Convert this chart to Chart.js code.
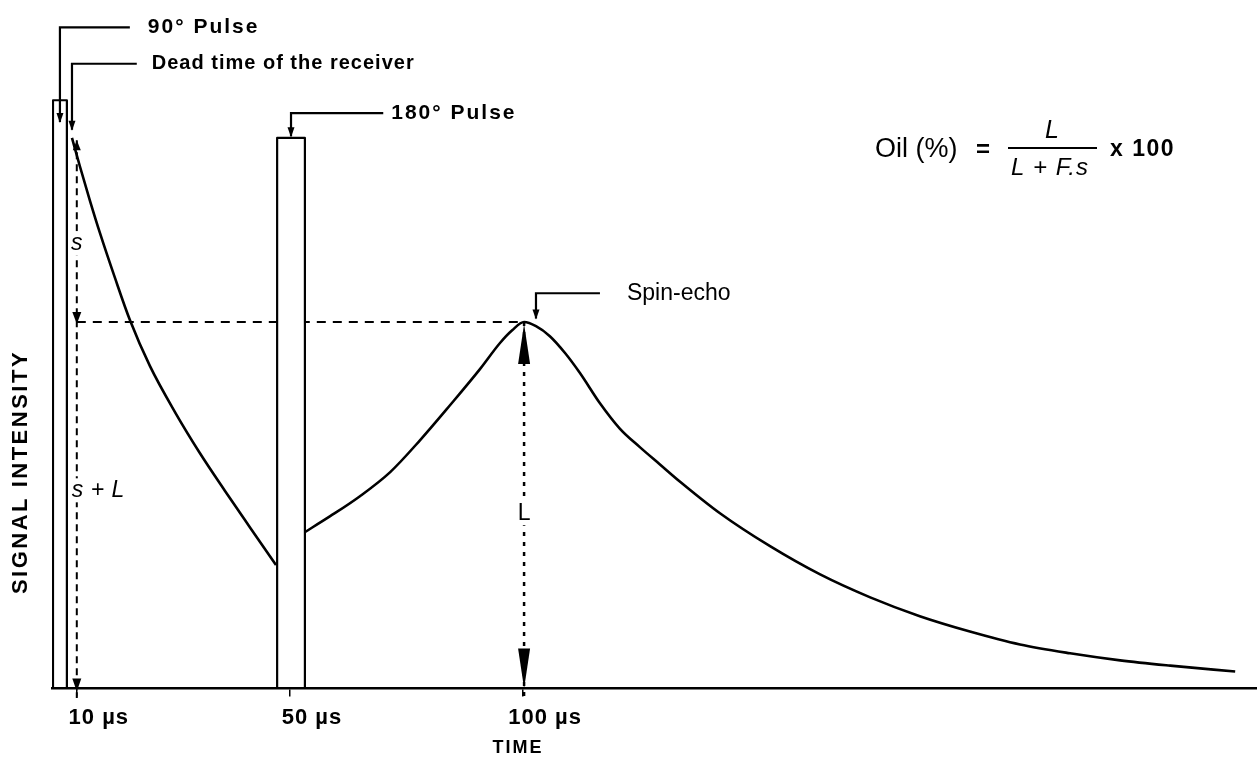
<!DOCTYPE html>
<html>
<head>
<meta charset="utf-8">
<script src="https://cdn.jsdelivr.net/npm/chart.js@4.4.0/dist/chart.umd.min.js"></script>
<style>
  html, body { margin: 0; padding: 0; background: #ffffff; }
  canvas { display: block; }
</style>
</head>
<body>
<canvas id="c" width="1257" height="757"></canvas>
<script>
// ---------------- DATA (schematic time units, signal in arbitrary units) ----------------
const fidTime   = [9.03, 10.65, 12.66, 14.68, 17.70, 20.73, 24.76, 29.80, 34.84, 39.89, 44.93, 50.17];
const fidSignal = [93.6, 88.7, 82.9, 77.4, 69.8, 62.6, 54.8, 47.0, 40.0, 33.6, 27.4, 21.0];

const echoTime   = [55.8, 61.1, 67.1, 73.2, 79.2, 85.3, 91.3, 95.3, 97.8, 100.2, 102.6, 105.4, 108.5, 111.5, 115.5, 119.5,
                    123.6, 127.6, 131.6, 139.7, 149.8, 159.9, 170.0, 180.0, 190.1, 200.2, 210.3, 220.4, 230.5, 243.6];
const echoSignal = [26.5, 29.3, 32.7, 36.8, 42.2, 48.2, 54.3, 58.7, 60.9, 62.3, 61.6, 59.9, 57.0, 53.6, 48.5, 44.2,
                    41.0, 38.1, 35.2, 29.8, 24.2, 19.4, 15.5, 12.3, 9.7, 7.5, 6.0, 4.8, 3.9, 2.9];

const pulse90Time    = [5.2, 5.2, 8.0, 8.0];
const pulse90Signal  = [0, 100, 100, 0];
const pulse180Time   = [50.4, 50.4, 56.0, 56.0];
const pulse180Signal = [0, 93.6, 93.6, 0];

const tickTime   = [10, 53, 100];
const tickLabels = ['10 \u00b5s', '50 \u00b5s', '100 \u00b5s'];

const sMarkerTop = 93.2;   // top of the "s" dashed marker at 10 µs

// ---------------- derived ----------------
const zip = (xs, ys) => xs.map((x, i) => ({ x: x, y: ys[i] }));
const peakIdx = echoSignal.indexOf(Math.max(...echoSignal));
const peakT = echoTime[peakIdx];
const peakV = echoSignal[peakIdx];
const sampleT = tickTime[0];

// leader annotations (data units)
const leaders = [
  { text: '90\u00b0 Pulse', pts: [[20.7, 112.4], [6.6, 112.4], [6.6, 96.3]], gap: 18, style: 'geo', size: 21, spacing: 2 },
  { text: 'Dead time of the receiver', pts: [[22.1, 106.2], [9.03, 106.2], [9.03, 95.0]], gap: 15, style: 'geo', size: 20, spacing: 1 },
  { text: '180\u00b0 Pulse', pts: [[71.8, 97.8], [53.2, 97.8], [53.2, 93.9]], gap: 8, style: 'geo', size: 21, spacing: 2 },
  { text: 'Spin-echo', pts: [[115.5, 67.2], [102.6, 67.2], [102.6, 62.9]], gap: 27, style: 'helv', size: 23, spacing: 0 }
];

const FAM = "'Liberation Sans', Arial, sans-serif";

function arrowHead(ctx, x, y, dir, len, hw) {
  ctx.beginPath();
  ctx.moveTo(x, y);
  ctx.lineTo(x - hw, y - dir * len);
  ctx.lineTo(x + hw, y - dir * len);
  ctx.closePath();
  ctx.fill();
}

function drawText(ctx, text, x, y, font, align, spacing, bg) {
  ctx.save();
  ctx.font = font;
  ctx.letterSpacing = (spacing || 0) + 'px';
  ctx.textAlign = align || 'left';
  ctx.textBaseline = 'middle';
  if (bg) {
    const w = ctx.measureText(text).width;
    let x0 = x;
    if (align === 'center') x0 = x - w / 2;
    else if (align === 'right') x0 = x - w;
    ctx.fillStyle = '#ffffff';
    ctx.fillRect(x0 - 2, y - 12, w + 4, 24);
  }
  ctx.fillStyle = '#000000';
  ctx.fillText(text, x, y);
  ctx.restore();
}

const schematic = {
  id: 'schematic',
  beforeDraw(chart) {
    const ctx = chart.ctx;
    ctx.save();
    ctx.fillStyle = '#ffffff';
    ctx.fillRect(0, 0, chart.width, chart.height);
    ctx.restore();
    ctx.letterSpacing = '1px';
  },
  beforeDatasetsDraw(chart) {
    chart.ctx.letterSpacing = '0px';
  },
  afterDraw(chart) {
    const ctx = chart.ctx;
    const X = v => chart.scales.x.getPixelForValue(v);
    const Y = v => chart.scales.y.getPixelForValue(v);
    ctx.save();
    ctx.letterSpacing = '0px';
    ctx.strokeStyle = '#000';
    ctx.fillStyle = '#000';
    ctx.lineCap = 'butt';
    ctx.lineJoin = 'miter';

    // leaders
    leaders.forEach(l => {
      ctx.lineWidth = 2.2;
      ctx.beginPath();
      l.pts.forEach((p, i) => {
        const x = X(p[0]), y = Y(p[1]);
        if (i === 0) ctx.moveTo(x, y); else ctx.lineTo(x, y);
      });
      ctx.stroke();
      const tip = l.pts[l.pts.length - 1];
      arrowHead(ctx, X(tip[0]), Y(tip[1]) + 1, 1, 10, 3.5);
      const start = l.pts[0];
      const font = (l.style === 'geo' ? 'bold ' : '') + l.size + 'px ' + FAM;
      drawText(ctx, l.text, X(start[0]) + l.gap, Y(start[1]), font, 'left', l.spacing);
    });

    // arrows on the "s" / "s + L" marker
    const sx = X(sampleT);
    arrowHead(ctx, sx, Y(sMarkerTop), -1, 10, 4);
    arrowHead(ctx, sx, Y(peakV) + 2, 1, 12, 4.5);
    arrowHead(ctx, sx, Y(0) + 3, 1, 13, 4.5);

    // arrows on the "L" marker
    const lx = X(peakT);
    arrowHead(ctx, lx, Y(peakV) + 2, -1, 40, 6);
    arrowHead(ctx, lx, Y(0), 1, 40, 6);

    // marker labels
    drawText(ctx, 's', sx, Y(75.7), 'italic 23px ' + FAM, 'center', 0, true);
    drawText(ctx, 's + L', sx - 5, Y(33.7), 'italic 23px ' + FAM, 'left', 0.5, true);
    drawText(ctx, 'L', lx, Y(29.8), '23px ' + FAM, 'center', 0, true);

    // y-axis title
    ctx.save();
    ctx.translate(21, 472);
    ctx.rotate(-Math.PI / 2);
    drawText(ctx, 'SIGNAL INTENSITY', 0, 0, 'bold 22px ' + FAM, 'center', 2.5);
    ctx.restore();

    // x-axis title
    drawText(ctx, 'TIME', 518, 748, 'bold 18px ' + FAM, 'center', 2);

    // formula
    const fy = 150;
    drawText(ctx, 'Oil (%)', 875, fy, '27px ' + FAM, 'left', 0);
    drawText(ctx, '=', 983, fy, 'bold 24px ' + FAM, 'center', 0);
    ctx.lineWidth = 2;
    ctx.beginPath();
    ctx.moveTo(1008, fy - 2);
    ctx.lineTo(1097, fy - 2);
    ctx.stroke();
    drawText(ctx, 'L', 1052, fy - 19, 'italic 25px ' + FAM, 'center', 0);
    drawText(ctx, 'L + F.s', 1050, fy + 18, 'italic 24px ' + FAM, 'center', 1);
    drawText(ctx, 'x 100', 1110, fy, 'bold 23px ' + FAM, 'left', 1.5);

    ctx.restore();
  }
};

new Chart(document.getElementById('c'), {
  type: 'line',
  data: {
    datasets: [
      { data: zip(pulse180Time, pulse180Signal), borderColor: '#000', borderWidth: 2.2, backgroundColor: '#fff',
        fill: 'origin', pointRadius: 0, tension: 0, borderJoinStyle: 'round' },
      { data: zip(pulse90Time, pulse90Signal), borderColor: '#000', borderWidth: 2.2, backgroundColor: '#fff',
        fill: 'origin', pointRadius: 0, tension: 0, borderJoinStyle: 'round' },
      { data: zip(fidTime, fidSignal), borderColor: '#000', borderWidth: 2.6, fill: false, pointRadius: 0,
        cubicInterpolationMode: 'monotone' },
      { data: zip(echoTime, echoSignal), borderColor: '#000', borderWidth: 2.6, fill: false, pointRadius: 0,
        cubicInterpolationMode: 'monotone' },
      { data: [{ x: sampleT, y: peakV }, { x: peakT - 0.6, y: peakV }], borderColor: '#000', borderWidth: 2,
        borderDash: [9, 7], fill: false, pointRadius: 0, tension: 0 },
      { data: [{ x: sampleT, y: sMarkerTop }, { x: sampleT, y: -1.6 }], borderColor: '#000', borderWidth: 2,
        borderDash: [7, 5], fill: false, pointRadius: 0, tension: 0, clip: false },
      { data: [{ x: peakT, y: peakV }, { x: peakT, y: -1.6 }], borderColor: '#000', borderWidth: 2.5,
        borderDash: [4, 6], fill: false, pointRadius: 0, tension: 0, clip: false }
    ]
  },
  options: {
    responsive: false,
    devicePixelRatio: 1,
    animation: false,
    events: [],
    layout: { padding: { left: 52, right: 0, top: 12, bottom: 18 } },
    plugins: { legend: { display: false }, tooltip: { enabled: false } },
    scales: {
      x: {
        type: 'linear',
        min: 5,
        max: 248,
        afterBuildTicks: scale => { scale.ticks = tickTime.map(v => ({ value: v })); },
        ticks: {
          autoSkip: false,
          maxRotation: 0,
          padding: 8,
          labelOffset: 22,
          color: '#000',
          font: { family: FAM, size: 22, weight: 'bold' },
          callback: (value) => tickLabels[tickTime.indexOf(value)]
        },
        grid: { display: true, drawOnChartArea: false, drawTicks: true, tickLength: 8, color: '#000', lineWidth: 1.5 },
        border: { display: true, color: '#000', width: 2.5, z: 1 }
      },
      y: { type: 'linear', min: 0, max: 115, display: false }
    }
  },
  plugins: [schematic]
});
</script>
</body>
</html>
